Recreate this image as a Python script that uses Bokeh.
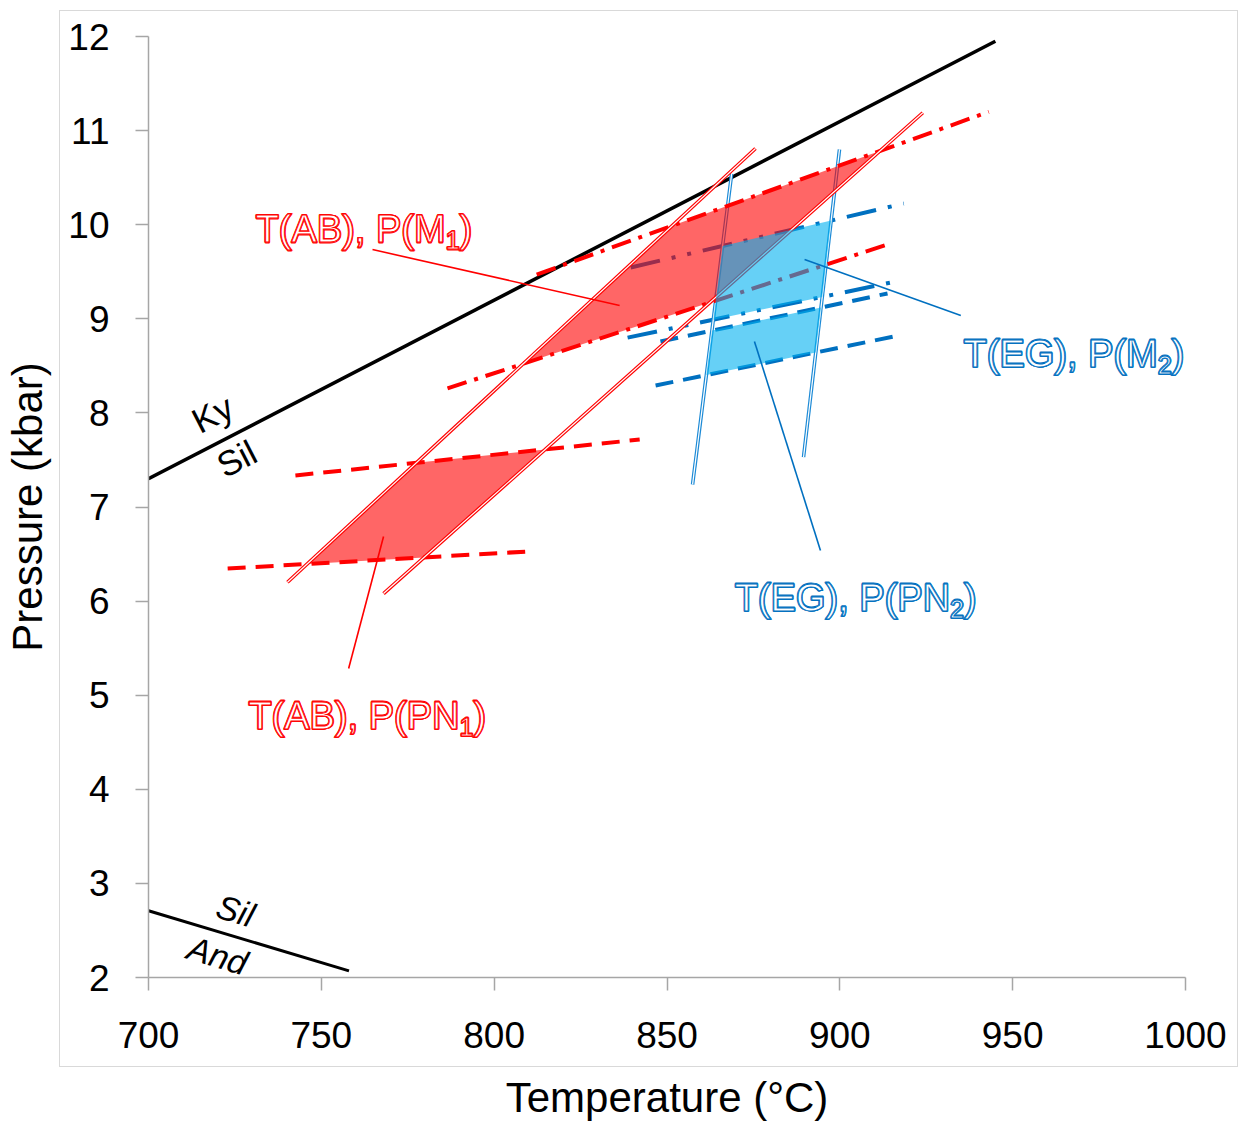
from bokeh.plotting import figure
from bokeh.models import FixedTicker, Range1d, InlineStyleSheet
from bokeh.core.properties import value
from bokeh.embed import file_html
from bokeh.resources import INLINE

# ---- Aluminosilicate reactions (T in degC, P in kbar) ----
ky_sil_t = [700.0, 945.0]
ky_sil_p = [7.30, 11.95]
sil_and_t = [700.0, 758.0]
sil_and_p = [2.71, 2.07]

# ---- T(AB) thermometer limits ----
ab_lo_t = [740.2, 875.6]
ab_lo_p = [6.20, 10.81]
ab_hi_t = [768.0, 924.0]
ab_hi_p = [6.08, 11.19]

# ---- P(PN1) barometer limits ----
pn1_lo_t = [722.9, 809.7]
pn1_lo_p = [6.346, 6.527]
pn1_hi_t = [742.5, 842.1]
pn1_hi_p = [7.335, 7.717]

# ---- P(M1) barometer limits ----
m1_lo_t = [786.5, 913.8]
m1_lo_p = [8.26, 9.79]
m1_hi_t = [812.3, 943.1]
m1_hi_p = [9.47, 11.20]

# ---- T(EG) thermometer limits ----
eg_lo_t = [857.4, 868.7]
eg_lo_p = [7.24, 10.54]
eg_hi_t = [889.5, 899.9]
eg_hi_p = [7.53, 10.80]

# ---- P(PN2) barometer limits ----
pn2_lo_t = [846.7, 915.6]
pn2_lo_p = [8.291, 8.812]
pn2_hi_t = [848.1, 913.8]
pn2_hi_p = [8.759, 9.269]

# ---- P(M2) barometer limits ----
m2_lo_t = [838.6, 917.6]
m2_lo_p = [8.80, 9.407]
m2_hi_t = [839.5, 918.5]
m2_hi_p = [9.545, 10.225]

# ---- axis ticks ----
x_ticks = [700, 750, 800, 850, 900, 950, 1000]
y_ticks = [2, 3, 4, 5, 6, 7, 8, 9, 10, 11, 12]

# ---- field labels ----
lab_main = ["T(AB), P(M", "T(EG), P(M", "T(EG), P(PN", "T(AB), P(PN"]
lab_sub = ["1", "2", "2", "1"]
lab_t = [731.0, 935.8, 869.6, 728.9]
lab_p = [9.949, 8.631, 6.038, 4.784]

# leader lines from labels to fields
lead_t0 = [764.8, 889.8, 875.3, 757.9]
lead_p0 = [9.736, 9.630, 8.759, 5.284]
lead_t1 = [836.3, 935.0, 894.4, 768.0]
lead_p1 = [9.141, 9.035, 6.538, 6.687]

# reaction labels
rx_text = ["Ky", "Sil", "Sil", "And"]
rx_t = [718.5, 725.5, 725.2, 720.0]
rx_p = [7.99, 7.515, 2.71, 2.234]

RED = "#ff0000"
BLUE = "#0070c0"
BLUE_ISO = "#1c8ad6"
BLUE_FILL = "#00b0f0"
FONT = "Liberation Sans"


def intersect(a_t, a_p, b_t, b_p):
    """Crossing point of the two straight lines through the given segments."""
    x1, x2 = a_t
    y1, y2 = a_p
    x3, x4 = b_t
    y3, y4 = b_p
    d = (x1 - x2) * (y3 - y4) - (y1 - y2) * (x3 - x4)
    s = ((x1 - x3) * (y3 - y4) - (y1 - y3) * (x3 - x4)) / d
    return x1 + s * (x2 - x1), y1 + s * (y2 - y1)


def field(t_lo, p_lo, t_hi, p_hi, b_lo_t, b_lo_p, b_hi_t, b_hi_p):
    corners = [
        intersect(t_lo, p_lo, b_lo_t, b_lo_p),
        intersect(t_lo, p_lo, b_hi_t, b_hi_p),
        intersect(t_hi, p_hi, b_hi_t, b_hi_p),
        intersect(t_hi, p_hi, b_lo_t, b_lo_p),
    ]
    return [c[0] for c in corners], [c[1] for c in corners]


p = figure(
    width=1238, height=1123,
    x_range=Range1d(700, 1000), y_range=Range1d(2, 12),
    output_backend="svg", toolbar_location=None,
    min_border_left=148, min_border_right=53,
    min_border_top=36, min_border_bottom=146,
    background_fill_color="white", border_fill_color="white",
    outline_line_color=None,
)
p.xgrid.visible = False
p.ygrid.visible = False

# thin grey frame around the plot area
p.stylesheets = [InlineStyleSheet(css="""
:host { position: relative; }
:host::after {
  content: ""; position: absolute; z-index: 10; pointer-events: none;
  left: 59px; top: 10px; width: 1177px; height: 1055px;
  border: 1px solid #d9d9d9;
}
""")]

p.xaxis.ticker = FixedTicker(ticks=x_ticks)
p.yaxis.ticker = FixedTicker(ticks=y_ticks)
for ax in (p.xaxis, p.yaxis):
    ax.axis_line_color = "#a6a6a6"
    ax.axis_line_width = 1.5
    ax.major_tick_line_color = "#a6a6a6"
    ax.major_tick_line_width = 1.5
    ax.major_tick_out = 13
    ax.major_tick_in = 0
    ax.minor_tick_line_color = None
    ax.major_label_text_font = FONT
    ax.major_label_text_font_size = "37px"
    ax.major_label_text_color = "black"
    ax.axis_label_text_font = FONT
    ax.axis_label_text_font_size = "42px"
    ax.axis_label_text_font_style = "normal"
    ax.axis_label_text_color = "black"
p.xaxis.axis_label = "Temperature (°C)"
p.yaxis.axis_label = "Pressure (kbar)"
p.xaxis.major_label_standoff = 31
p.yaxis.major_label_standoff = 26
p.xaxis.axis_label_standoff = 23
p.yaxis.axis_label_standoff = 14

# reaction curves
p.line(ky_sil_t, ky_sil_p, line_color="black", line_width=3.5)
p.line(sil_and_t, sil_and_p, line_color="black", line_width=3)


def double_line(ts, ps, color):
    p.line(ts, ps, line_color=color, line_width=3.6)
    p.line(ts, ps, line_color="white", line_width=1.2)


# EG / M2 / PN2 limits (drawn beneath the red field)
p.line(pn2_lo_t, pn2_lo_p, line_color=BLUE, line_width=4, line_dash="18 10")
p.line(pn2_hi_t, pn2_hi_p, line_color=BLUE, line_width=4, line_dash="18 10")
p.line(m2_lo_t, m2_lo_p, line_color=BLUE, line_width=4, line_dash="30 12 4 12 4 12")
p.line(m2_hi_t, m2_hi_p, line_color=BLUE, line_width=4, line_dash="30 12 4 12 4 12")
double_line(eg_lo_t, eg_lo_p, BLUE_ISO)
double_line(eg_hi_t, eg_hi_p, BLUE_ISO)

# red P-T fields
f1_t, f1_p = field(ab_lo_t, ab_lo_p, ab_hi_t, ab_hi_p, pn1_lo_t, pn1_lo_p, pn1_hi_t, pn1_hi_p)
f2_t, f2_p = field(ab_lo_t, ab_lo_p, ab_hi_t, ab_hi_p, m1_lo_t, m1_lo_p, m1_hi_t, m1_hi_p)
p.patch(f1_t, f1_p, fill_color=RED, fill_alpha=0.6, line_color=None)
p.patch(f2_t, f2_p, fill_color=RED, fill_alpha=0.6, line_color=None)

# AB / M1 / PN1 limits
p.line(pn1_lo_t, pn1_lo_p, line_color=RED, line_width=4, line_dash="18 10")
p.line(pn1_hi_t, pn1_hi_p, line_color=RED, line_width=4, line_dash="18 10")
p.line(m1_lo_t, m1_lo_p, line_color=RED, line_width=4, line_dash="20 8 4 8")
p.line(m1_hi_t, m1_hi_p, line_color=RED, line_width=4, line_dash="20 8 4 8")
double_line(ab_lo_t, ab_lo_p, RED)
double_line(ab_hi_t, ab_hi_p, RED)

# blue P-T fields
f3_t, f3_p = field(eg_lo_t, eg_lo_p, eg_hi_t, eg_hi_p, pn2_lo_t, pn2_lo_p, pn2_hi_t, pn2_hi_p)
f4_t, f4_p = field(eg_lo_t, eg_lo_p, eg_hi_t, eg_hi_p, m2_lo_t, m2_lo_p, m2_hi_t, m2_hi_p)
p.patch(f3_t, f3_p, fill_color=BLUE_FILL, fill_alpha=0.6, line_color=None)
p.patch(f4_t, f4_p, fill_color=BLUE_FILL, fill_alpha=0.6, line_color=None)

# leader lines
lab_color = [RED, BLUE, BLUE, RED]
p.segment(lead_t0, lead_p0, lead_t1, lead_p1, line_color=lab_color, line_width=1.6)

# reaction labels
p.text(rx_t[:2], rx_p[:2], text=rx_text[:2], angle=0.477,
       text_font=value(FONT), text_font_size="35px", text_color="black",
       text_align="center", text_baseline="middle")
p.text(rx_t[2:], rx_p[2:], text=rx_text[2:], angle=-0.29,
       text_font=value(FONT), text_font_size="34px", text_font_style="italic",
       text_color="black", text_align="center", text_baseline="middle")

# field labels: outlined lettering with subscript index
ADV = {"T": 0.611, "(": 0.333, ")": 0.333, "A": 0.667, "B": 0.667, "E": 0.667,
       "G": 0.778, ",": 0.278, " ": 0.278, "P": 0.667, "M": 0.833, "N": 0.722,
       "1": 0.556, "2": 0.556}
F_MAIN = 38
F_SUB = 25
main_w = [sum(ADV[c] for c in s) * F_MAIN for s in lab_main]
sub_w = [sum(ADV[c] for c in s) * F_SUB for s in lab_sub]
close_w = [a + b for a, b in zip(main_w, sub_w)]

common = dict(text_font=value(FONT), text_color="white",
              text_outline_color=lab_color, text_align="left",
              text_baseline="alphabetic")


def outlined_label(dx, dy):
    p.text(lab_t, lab_p, text=lab_main, text_font_size=f"{F_MAIN}px",
           x_offset=dx, y_offset=dy, **common)
    p.text(lab_t, lab_p, text=lab_sub, text_font_size=f"{F_SUB}px",
           x_offset=[w + dx for w in main_w], y_offset=11 + dy, **common)
    p.text(lab_t, lab_p, text=[")"] * 4, text_font_size=f"{F_MAIN}px",
           x_offset=[w + dx for w in close_w], y_offset=dy, **common)


# slightly shifted copies thicken the outer stroke of the lettering
for dx, dy in [(-0.6, 0), (0.6, 0), (0, -0.6), (0, 0.6), (0, 0), (0, 0)]:
    outlined_label(dx, dy)

open("out.html", "w").write(file_html(p, INLINE))
